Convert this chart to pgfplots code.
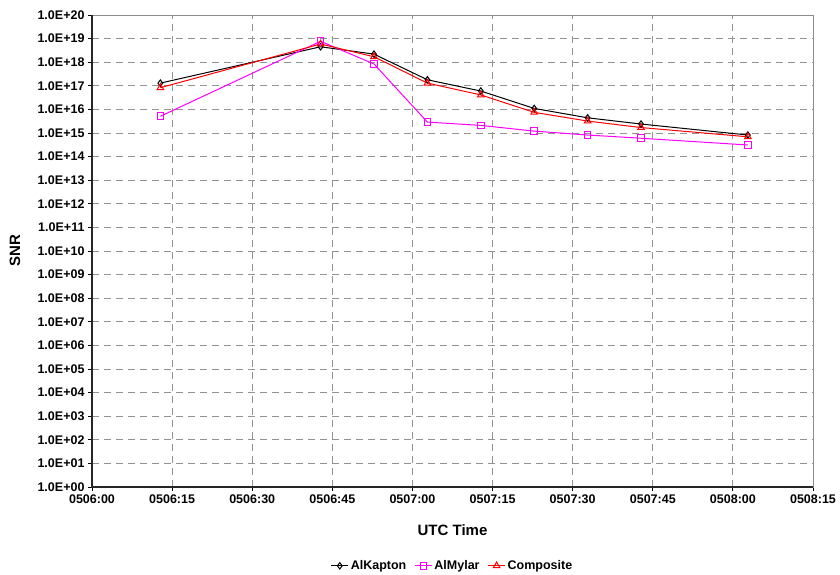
\documentclass[border=0pt]{standalone}
\usepackage{fontspec}
\setmainfont{Liberation Sans}
\usepackage{pgfplots}
\pgfplotsset{compat=1.18}
\definecolor{mylar}{RGB}{255,0,255}
\definecolor{comp}{RGB}{255,0,0}

\begin{document}
\begin{tikzpicture}[x=1pt,y=1pt]
\useasboundingbox (0,0) rectangle (840,575);
\begin{axis}[
  at={(92pt,88pt)}, anchor=south west,
  scale only axis, width=721pt, height=472pt,
  ymode=log, xmin=0, xmax=135, ymin=1, ymax=1e20,
  xtick={0,15,...,135},
  xticklabels={0506:00,0506:15,0506:30,0506:45,0507:00,0507:15,0507:30,0507:45,0508:00,0508:15},
  ytick={1e0,1e1,1e2,1e3,1e4,1e5,1e6,1e7,1e8,1e9,1e10,1e11,1e12,1e13,1e14,1e15,1e16,1e17,1e18,1e19,1e20},
  yticklabels={1.0E+00,1.0E+01,1.0E+02,1.0E+03,1.0E+04,1.0E+05,1.0E+06,1.0E+07,1.0E+08,1.0E+09,1.0E+10,1.0E+11,1.0E+12,1.0E+13,1.0E+14,1.0E+15,1.0E+16,1.0E+17,1.0E+18,1.0E+19,1.0E+20},
  yminorticks=false,
  tick pos=left, tick align=outside, major tick length=4pt,
  tick style={black, line width=0.8pt},
  tick label style={font=\bfseries\fontsize{12.5}{14}\selectfont},
  xlabel={\bfseries UTC Time}, ylabel={\bfseries SNR},
  label style={font=\bfseries\fontsize{15}{17}\selectfont},
  xlabel style={at={(axis description cs:0.5,-0.091)}, anchor=center},
  ylabel style={at={(axis description cs:-0.107,0.5)}, anchor=center},
  grid=major,
  major grid style={draw=gray!85, line width=0.9pt, dash pattern=on 7pt off 5pt},
  axis line style={draw=gray!90, line width=0.9pt},
  clip=false,
  legend columns=-1,
  legend style={at={(axis description cs:0.5,-0.167)}, anchor=center, draw=none,
    font=\bfseries\fontsize{12.5}{14}\selectfont,
    /tikz/every even column/.append style={column sep=6pt}},
]
\addplot[black, line width=1pt, mark=diamond, mark size=3.2pt, mark options={solid, fill=white}]
  coordinates {(12.8,1.3e17)(42.8,4.5e18)(52.8,2.2e18)(62.8,1.8e17)(72.8,6e16)(82.8,1.1e16)(92.8,4.4e15)(102.8,2.4e15)(122.8,8.2e14)};
\addplot[mylar, line width=1pt, mark=square, mark size=3.3pt, mark options={solid, fill=white}]
  coordinates {(12.8,5.1e15)(42.8,7.7e18)(52.8,8.4e17)(62.8,2.9e15)(72.8,2.1e15)(82.8,1.2e15)(92.8,8.2e14)(102.8,6e14)(122.8,3.1e14)};
\addplot[comp, line width=1pt, mark=triangle, mark size=3.8pt, mark options={solid, fill=white}]
  coordinates {(12.8,8.3e16)(42.8,5.9e18)(52.8,1.7e18)(62.8,1.3e17)(72.8,4.1e16)(82.8,7.5e15)(92.8,3.2e15)(102.8,1.7e15)(122.8,6.9e14)};
\legend{AlKapton, AlMylar, Composite}
\draw[black!85, line width=1.4pt] (rel axis cs:0,1) -- (rel axis cs:0,0) -- (rel axis cs:1,0);
\end{axis}
\end{tikzpicture}
\end{document}
